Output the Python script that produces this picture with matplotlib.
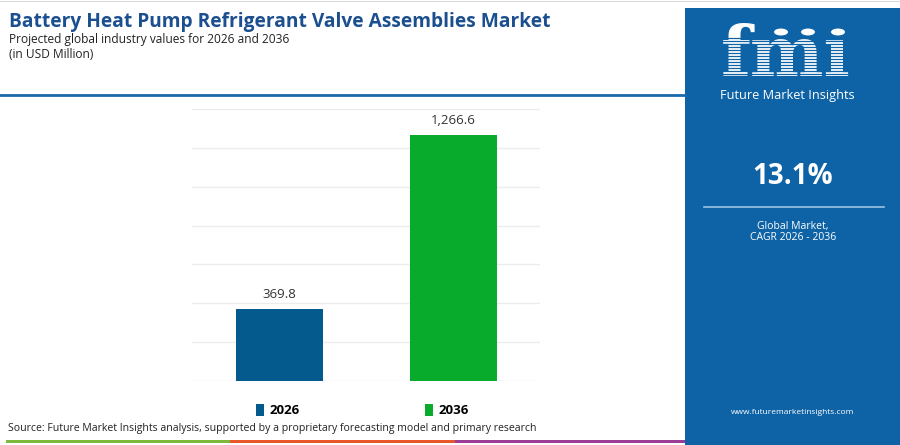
import numpy as np
import matplotlib.pyplot as plt
from matplotlib.patches import Rectangle, Circle

# ---------------- data ----------------
years = ['2026', '2036']
values = [369.8, 1266.6]
value_labels = ['369.8', '1,266.6']
bar_colors = ['#045a8d', '#08ab2c']
cagr = '13.1%'
y_max = 1400
y_step = 200

plt.rcParams['font.family'] = ['Open Sans', 'DejaVu Sans']

W, H = 900, 445
fig = plt.figure(figsize=(W / 100, H / 100), dpi=100)
fig.patch.set_facecolor('white')


def px(x, y):
    # pixel coords (from top-left) -> figure fraction
    return x / W, 1 - y / H


# ---------------- background decorations ----------------
panel_blue = '#0e63a6'
fig.add_artist(Rectangle(px(685, 445), 215 / W, 437 / H, transform=fig.transFigure,
                         facecolor=panel_blue, edgecolor='none', zorder=0))
fig.add_artist(Rectangle(px(0, 2), 1, 1 / H, transform=fig.transFigure,
                         facecolor='#d8d8d8', edgecolor='none'))
fig.add_artist(plt.Line2D([0, 685 / W], [1 - 95 / H] * 2, transform=fig.transFigure,
                          color='#1a6aab', lw=2))
# colour strip at the bottom
for x0, x1, c in [(6, 230, '#7dba3c'), (230, 455, '#e8582a'), (455, 685, '#9b3d96')]:
    fig.add_artist(Rectangle(px(x0, 443), (x1 - x0) / W, 3.5 / H, transform=fig.transFigure,
                             facecolor=c, edgecolor='none'))

# ---------------- titles ----------------
fig.text(9 / W, 1 - 22 / H, 'Battery Heat Pump Refrigerant Valve Assemblies Market',
         fontsize=13.8, fontweight='bold', color='#1b4f8f', va='center', ha='left')
fig.text(9 / W, 1 - 39 / H, 'Projected global industry values for 2026 and 2036',
         fontsize=8.6, color='#222222', va='center', ha='left')
fig.text(9 / W, 1 - 55 / H, '(in USD Million)',
         fontsize=8.6, color='#222222', va='center', ha='left')

# ---------------- bar chart ----------------
ax = fig.add_axes([192 / W, (H - 381) / H, 348 / W, 272 / H])
x = np.arange(len(years))
bars = ax.bar(x, values, width=0.5, color=bar_colors, zorder=3)
for b, lab in zip(bars, value_labels):
    ax.text(b.get_x() + b.get_width() / 2, b.get_height() + 40, lab,
            ha='center', va='bottom', fontsize=9.5, color='#333333')
ax.set_xlim(-0.5, 1.5)
ax.set_ylim(0, y_max)
ax.set_yticks(np.arange(0, y_max + 1, y_step))
ax.grid(axis='y', color='#ececec', lw=1, zorder=0)
ax.tick_params(left=False, bottom=False, labelleft=False, labelbottom=False)
for s in ax.spines.values():
    s.set_visible(False)

for b, yr in zip(bars, years):
    b.set_label(yr)
leg = ax.legend(handles=list(bars), loc='upper center', bbox_to_anchor=(0.49, -0.04),
                ncol=2, frameon=False, handlelength=0.6, handleheight=1.0,
                handletextpad=0.4, columnspacing=9.5,
                prop={'weight': 'bold', 'size': 9.5})

# ---------------- right panel ----------------
# striped logo
fig.text(786 / W, 1 - 56 / H, 'fmı', fontsize=50, fontweight='bold', color='white',
         ha='center', va='center', family=['DejaVu Serif'], zorder=1)
for yy in np.arange(38, 86, 3.0):
    fig.add_artist(plt.Line2D([712 / W, 870 / W], [1 - yy / H] * 2,
                              transform=fig.transFigure, color=panel_blue, lw=0.9, zorder=2))
for cx in [781, 808, 838]:
    fig.add_artist(Circle(px(cx, 32), 7 / W, transform=fig.transFigure,
                          facecolor='white', edgecolor='none', zorder=3))
fig.text(787 / W, 1 - 96 / H, 'Future Market Insights', fontsize=9.2, color='white',
         ha='center', va='center')

fig.text(793 / W, 1 - 176 / H, cagr, fontsize=20, fontweight='bold', color='white',
         ha='center', va='center')
fig.add_artist(plt.Line2D([704 / W, 884 / W], [1 - 207 / H] * 2,
                          transform=fig.transFigure, color='#9cc3e3', lw=1.2))
fig.text(793 / W, 1 - 226 / H, 'Global Market,', fontsize=7.5, color='white',
         ha='center', va='center')
fig.text(793 / W, 1 - 238 / H, 'CAGR 2026 - 2036', fontsize=7.5, color='white',
         ha='center', va='center')
fig.text(793 / W, 1 - 413 / H, 'www.futuremarketinsights.com', fontsize=6, color='white',
         ha='center', va='center')

# ---------------- source ----------------
fig.text(8 / W, 1 - 429 / H,
         'Source: Future Market Insights analysis, supported by a proprietary forecasting model and primary research',
         fontsize=7.6, color='#222222', ha='left', va='center')

fig.savefig('out.png', dpi=100)
